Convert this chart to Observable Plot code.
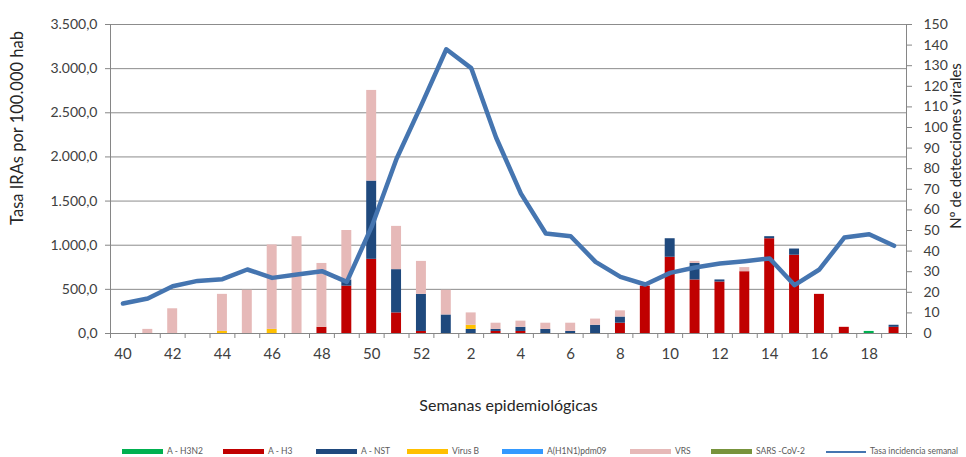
<!DOCTYPE html>
<html>
<head>
<meta charset="utf-8">
<script src="https://cdn.jsdelivr.net/npm/d3@7"></script>
<script src="https://cdn.jsdelivr.net/npm/@observablehq/plot@0.6"></script>
<style>
  body { margin: 0; background: #fff; font-family: Lato, sans-serif; }
  #wrap { width: 966px; }
  #legend { position: relative; width: 966px; height: 17px; }
  #legend .sw { position: absolute; top: 9px; height: 5px; width: 41px; }
  #legend .ln { position: absolute; top: 11px; height: 2px; width: 40px; }
  #legend .tx { position: absolute; top: 5px; font-size: 8.5px; line-height: 12px; color: #595959; white-space: nowrap; }
</style>
</head>
<body>
<div id="wrap"><div id="chart"></div><div id="legend"></div></div>
<script>
// ---- data ----
const weeks = ["40","41","42","43","44","45","46","47","48","49","50","51","52",
  "1","2","3","4","5","6","7","8","9","10","11","12","13","14","15","16","17","18","19"];
const xLabels = ["40","42","44","46","48","50","52","2","4","6","8","10","12","14","16","18"];
const seriesNames = ["A - H3N2","A - H3","A - NST","Virus B","A(H1N1)pdm09","VRS","SARS -CoV-2"];
const seriesColors = ["#00b050","#c00000","#1f497d","#ffc000","#3399ff","#e6b9b8","#77933c"];
const lineName = "Tasa incidencia semanal";
// detections per week (right axis)
const vH3N2 = [0,0,0,0,0,0,0,0,0,0,0,0,0, 0,0,0,0,0,0,0,0,0,0,0,0,0,0,0,0,0,1,0];
const vH3   = [0,0,0,0,0,0,0,0,3,23,36,10,1, 0,0,1,1,0,0,0,5,23,37,26,25,30,46,38,19,3,0,3];
const vNST  = [0,0,0,0,0,0,0,0,0,3,38,21,18, 9,2,1,2,2,1,4,3,0,9,8,1,0,1,3,0,0,0,1];
const vB    = [0,0,0,0,1,0,2,0,0,0,0,0,0, 0,2,0,0,0,0,0,0,0,0,0,0,0,0,0,0,0,0,0];
const vPdm  = [0,0,0,0,0,0,0,0,0,0,0,0,0, 0,0,0,0,0,0,0,0,0,0,0,0,0,0,0,0,0,0,0];
const vVRS  = [0,2,12,0,18,21,41,47,31,24,44,21,16, 12,6,3,3,3,4,3,3,0,0,1,0,2,0,0,0,0,0,0];
const vCov  = [0,0,0,0,0,0,0,0,0,0,0,0,0, 0,0,0,0,0,0,0,0,0,0,0,0,0,0,0,0,0,0,0];
// weekly IRA rate (left axis)
const tasa = [340,397,536,596,615,725,630,668,706,585,1210,1980,2590,
  3220,3006,2220,1585,1133,1102,811,641,555,687,748,793,819,850,547,725,1087,1125,993];
const leftTicks = [0,500,1000,1500,2000,2500,3000,3500];
const rightTicks = [0,10,20,30,40,50,60,70,80,90,100,110,120,130,140,150];

// ---- build ----
const K = 3500 / 150;
const seriesValues = [vH3N2, vH3, vNST, vB, vPdm, vVRS, vCov];
const barRows = [];
seriesNames.forEach((s, si) => weeks.forEach((w, i) => barRows.push({week: w, serie: s, det: seriesValues[si][i]})));
const lineRows = weeks.map((w, i) => ({week: w, tasa: tasa[i]}));

const W = 966, H = 440, mL = 110, mR = 60, mT = 24, mB = 107;
const step = (W - mL - mR) / weeks.length;
const pxUnit = 3500 / (H - mT - mB);
const axisGray = "#868686";
const fmt = v => {
  const s = v.toFixed(1).split(".");
  return s[0].replace(/\B(?=(\d{3})+(?!\d))/g, ".") + "," + s[1];
};

const chart = Plot.plot({
  width: W, height: H,
  marginLeft: mL, marginRight: mR, marginTop: mT, marginBottom: mB,
  style: {fontFamily: "Lato, sans-serif", background: "#fff"},
  x: {type: "band", domain: weeks, paddingInner: 0.6, paddingOuter: 0.3, round: false, axis: null},
  y: {domain: [0, 3500], axis: null},
  color: {domain: seriesNames, range: seriesColors},
  marks: [
    Plot.ruleY(leftTicks.slice(1), {stroke: "#8c8c8c", strokeWidth: 1}),
    Plot.barY(barRows, {x: "week", y: d => d.det * K, fill: "serie"}),
    Plot.ruleY([0], {stroke: axisGray}),
    Plot.ruleX(weeks, {x: d => d, y1: 0, y2: -5 * pxUnit, dx: -step / 2, stroke: axisGray}),
    Plot.ruleX([weeks[weeks.length - 1]], {x: d => d, y1: 0, y2: -5 * pxUnit, dx: step / 2, stroke: axisGray}),
    Plot.ruleX([weeks[0]], {x: d => d, y1: 0, y2: 3500, dx: -step / 2, stroke: axisGray}),
    Plot.ruleX([weeks[weeks.length - 1]], {x: d => d, y1: 0, y2: 3500, dx: step / 2, stroke: axisGray}),
    Plot.line(lineRows, {x: "week", y: "tasa", stroke: "#4575b0", strokeWidth: 4.5, strokeLinejoin: "round", strokeLinecap: "round"}),
    Plot.axisY(leftTicks, {anchor: "left", tickSize: 5, tickPadding: 8, tickFormat: fmt, stroke: axisGray, fill: "#404040", fontSize: 14, label: null}),
    Plot.axisY(rightTicks.map(v => v * K), {anchor: "right", tickSize: 5, tickPadding: 12, tickFormat: d => String(Math.round(d / K)), stroke: axisGray, fill: "#404040", fontSize: 14, label: null}),
    Plot.axisX(xLabels, {anchor: "bottom", tickSize: 0, tickPadding: 15, fill: "#404040", fontSize: 15, label: null}),
    Plot.text(["Tasa IRAs por 100.000 hab"], {frameAnchor: "left", rotate: -90, textAnchor: "middle", dx: -93, dy: -51, fontSize: 16.5, fill: "#262626"}),
    Plot.text(["Nº de detecciones virales"], {frameAnchor: "right", rotate: -90, textAnchor: "middle", dx: 50, dy: -33, fontSize: 15, fill: "#262626"}),
    Plot.text(["Semanas epidemiológicas"], {frameAnchor: "bottom", textAnchor: "middle", dy: 77, fontSize: 16, fill: "#262626"})
  ]
});
document.getElementById("chart").appendChild(chart);

// legend
const legend = document.getElementById("legend");
const swX = [122, 223, 316, 407, 502, 630, 711];
seriesNames.forEach((s, i) => {
  const sw = document.createElement("div");
  sw.className = "sw"; sw.style.left = swX[i] + "px"; sw.style.background = seriesColors[i];
  legend.appendChild(sw);
  const tx = document.createElement("span");
  tx.className = "tx"; tx.style.left = (swX[i] + 45) + "px"; tx.textContent = s;
  legend.appendChild(tx);
});
const ln = document.createElement("div");
ln.className = "ln"; ln.style.left = "826px"; ln.style.background = "#4575b0";
legend.appendChild(ln);
const lt = document.createElement("span");
lt.className = "tx"; lt.style.left = "870px"; lt.textContent = lineName;
legend.appendChild(lt);
</script>
</body>
</html>
